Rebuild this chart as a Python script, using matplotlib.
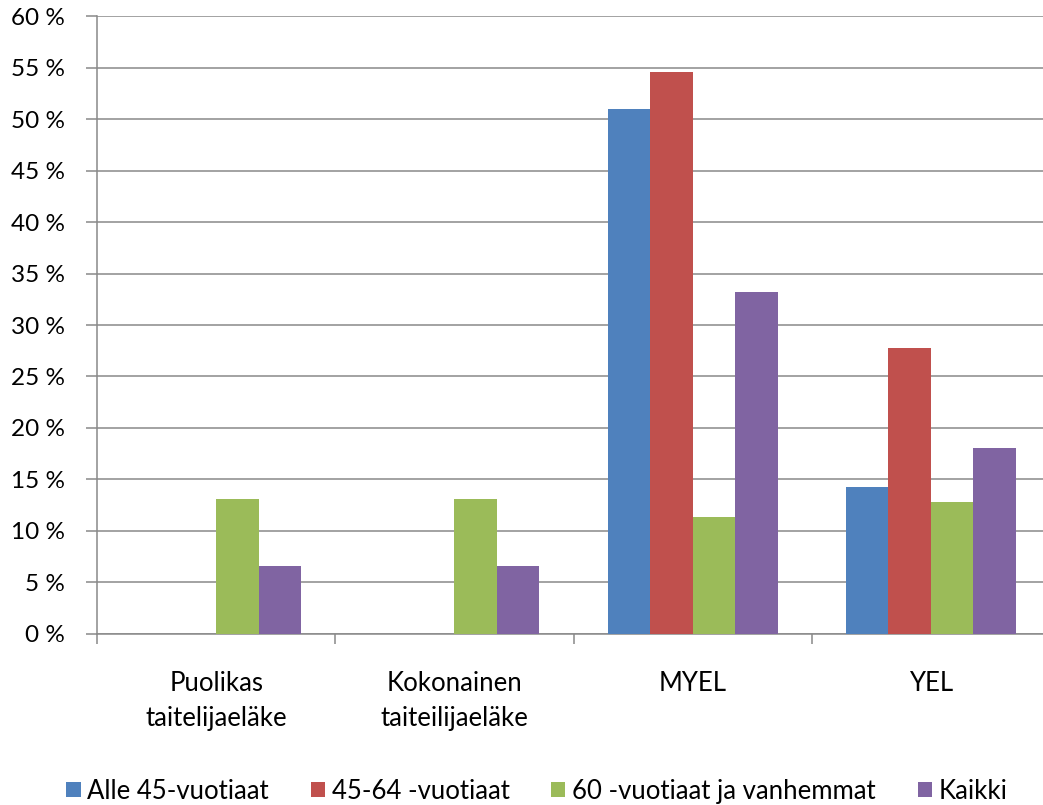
import matplotlib
matplotlib.use('Agg')
import matplotlib.pyplot as plt
import numpy as np

categories = ["Puolikas\ntaitelijaeläke", "Kokonainen\ntaiteilijaeläke", "MYEL", "YEL"]
series_names = ["Alle 45-vuotiaat", "45-64 -vuotiaat", "60 -vuotiaat ja vanhemmat", "Kaikki"]
alle45 = [0, 0, 51.0, 14.2]
v45_64 = [0, 0, 54.6, 27.8]
v60 = [13.1, 13.1, 11.3, 12.75]
kaikki = [6.6, 6.6, 33.2, 18.05]
colors = ["#4F81BD", "#C0504D", "#9BBB59", "#8064A2"]
yticks = list(range(0, 61, 5))

plt.rcParams['font.family'] = ['Lato', 'DejaVu Sans']
W, H = 1043, 805
fig = plt.figure(figsize=(W / 100, H / 100), dpi=100)
ax = fig.add_axes([97 / W, (H - 633.5) / H, (1050 - 97) / W, (633.5 - 16.5) / H])

grey = "#898989"
w = 1 / 5.6
x = np.arange(len(categories))
for j, (vals, name) in enumerate(zip([alle45, v45_64, v60, kaikki], series_names)):
    ax.bar(x + (j - 1.5) * w, vals, width=w, color=colors[j], label=name, zorder=3)

ax.set_xlim(-0.5, 3.5)
ax.set_ylim(0, 60)
ax.set_yticks(yticks)
ax.set_yticklabels([f"{t} %" for t in yticks])
ax.yaxis.grid(True, color=grey, linewidth=1.1, zorder=0)
ax.set_axisbelow(True)

ax.set_xticks(np.arange(-0.5, 3.6, 1))
ax.set_xticklabels([])
ax.set_xticks(x, minor=True)
ax.set_xticklabels(categories, minor=True, linespacing=1.5)
ax.tick_params(axis='x', which='minor', length=0, pad=27, labelsize=18.5)
ax.tick_params(axis='x', which='major', length=7.5, width=1.1, color=grey)
ax.tick_params(axis='y', length=8, width=1.1, color=grey, pad=15, labelsize=17.5)

for s in ['top', 'right']:
    ax.spines[s].set_visible(False)
for s in ['left', 'bottom']:
    ax.spines[s].set_color(grey)
    ax.spines[s].set_linewidth(1.1)

fig.legend(loc='center', bbox_to_anchor=(537 / W, (H - 791) / H), ncol=4, frameon=False,
           fontsize=18.5, handlelength=0.55, handleheight=0.55, handletextpad=0.27,
           columnspacing=1.62)

fig.savefig("out.png", dpi=100)
